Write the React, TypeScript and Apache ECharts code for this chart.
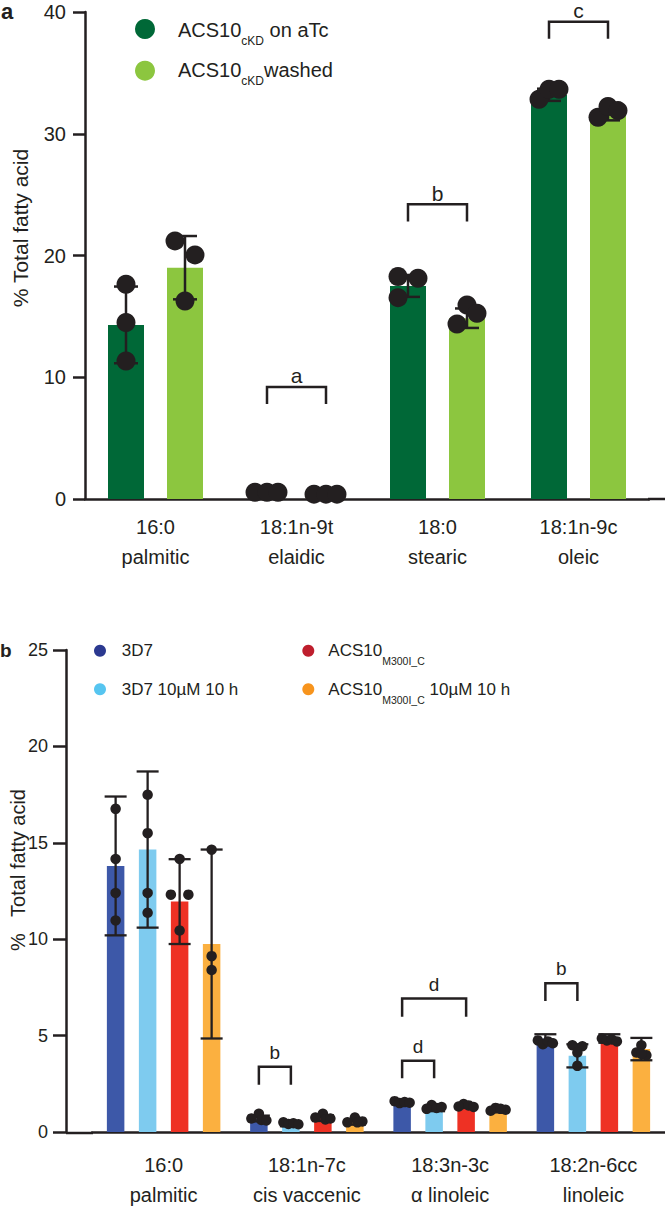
import React, { useEffect, useRef } from "react";
import * as echarts from "echarts";

const FONT = "'Liberation Sans', Arial, Helvetica, sans-serif";
const INK = "#231f20";

// ---------- Panel a data ----------
const fattyA = ["16:0", "18:1n-9t", "18:0", "18:1n-9c"];
const commonA = ["palmitic", "elaidic", "stearic", "oleic"];
const yTicksA = [0, 10, 20, 30, 40];
const meanATc = [14.3, 0.55, 17.5, 33.2];
const meanWashed = [19.0, 0.4, 14.85, 31.55];
const sdATc = [3.15, 0.1, 0.9, 0.5];
const sdWashed = [2.6, 0.1, 0.8, 0.45];
const ptsATc = [[17.64, 14.49, 11.34], [0.55, 0.55, 0.55], [16.54, 18.27, 18.13], [32.84, 33.66, 33.66]];
const ptsWashed = [[21.2, 20.05, 16.27], [0.4, 0.4, 0.4], [14.38, 15.94, 15.26], [31.36, 32.23, 31.9]];
const jitATc = [[0, 0, 0], [-1.2, 0, 1.1], [-1, -1, 1], [-1, 0, 1]];
const jitWashed = [[-1, 1, 0], [-1.2, 0, 1.1], [-1, 0, 1], [-1, 0, 1]];
const bracketCatA = [1, 2, 3];
const bracketFromA = [0, 0, 0];
const bracketToA = [1, 1, 1];
const bracketTopA = [9.2, 24.2, 39.2];
const bracketLegA = [7.8, 22.8, 37.8];
const bracketLetterA = ["a", "b", "c"];

// ---------- Panel b data ----------
const fattyB = ["16:0", "18:1n-7c", "18:3n-3c", "18:2n-6cc"];
const commonB = ["palmitic", "cis vaccenic", "\u03b1 linoleic", "linoleic"];
const yTicksB = [0, 5, 10, 15, 20, 25];
const mean3D7 = [13.8, 0.7, 1.5, 4.85];
const mean3D7Drug = [14.65, 0.38, 1.2, 3.95];
const meanACS = [11.95, 0.72, 1.35, 4.85];
const meanACSDrug = [9.75, 0.5, 1.12, 4.3];
const sd3D7 = [3.6, 0.15, 0.06, 0.22];
const sd3D7Drug = [4.05, 0.08, 0.12, 0.6];
const sdACS = [2.2, 0.15, 0.07, 0.22];
const sdACSDrug = [4.9, 0.12, 0.1, 0.58];
const pts3D7 = [[16.76, 14.16, 12.4, 10.97], [0.95, 0.7, 0.62, 0.6], [1.6, 1.5, 1.55, 1.52], [4.75, 4.55, 4.7, 4.6]];
const pts3D7Drug = [[17.49, 15.5, 12.4, 11.37], [0.5, 0.42, 0.45, 0.4], [1.4, 1.2, 1.25, 1.3], [4.5, 4.45, 4.12, 3.43]];
const ptsACS = [[14.16, 12.31, 12.31, 10.45], [0.95, 0.75, 0.65, 0.7], [1.45, 1.32, 1.38, 1.3], [4.85, 4.75, 4.8, 4.7]];
const ptsACSDrug = [[14.64, 9.12, 8.4], [0.75, 0.5, 0.55, 0.5], [1.25, 1.1, 1.15, 1.2], [4.5, 4.12, 3.98, 4.05]];
const jit3D7 = [[0, 0, 0, 0], [0, -1.5, 0.5, 1.5], [-1.5, -0.5, 0.5, 1.5], [-1.5, -0.5, 0.5, 1.5]];
const jit3D7Drug = [[0, 0, 0, 0], [-1.5, -0.5, 0.5, 1.5], [-0.5, -1.5, 0.5, 1.5], [-1, 1, 0, 0]];
const jitACS = [[0, -1.75, 1.75, 0], [0, -1.5, 0.5, 1.5], [-0.5, -1.5, 0.5, 1.5], [-1.5, -0.5, 0.5, 1.5]];
const jitACSDrug = [[0, 0, 0], [0, -1.5, 1.5, 0.5], [-0.5, -1.5, 1.5, 0.5], [0, -1, 1, 0]];
const bracketCatB = [1, 2, 2, 3];
const bracketFromB = [0, 0, 0, 0];
const bracketToB = [1, 2, 1, 1];
const bracketTopB = [3.39, 6.92, 3.69, 7.71];
const bracketLegB = [2.45, 5.98, 2.79, 6.79];
const bracketLetterB = ["b", "d", "d", "b"];

// ---------- styling ----------
const colorsA = ["#006837", "#8cc63f"];
const colorsB = ["#3d58a8", "#7ecbef", "#ee3124", "#fbb040"];
const legendColorsB = ["#2b3990", "#56c5f0", "#be1e2d", "#f7941d"];

const barOffsets = (n: number, w: number, gap: number) =>
  Array.from({ length: n }, (_, i) => (i - (n - 1) / 2) * (w + gap));

const BW_A = 36, GAP_A = 23;
const BW_B = 17.5, GAP_B = 14.5;
const offA = barOffsets(2, BW_A, GAP_A);
const offB = barOffsets(4, BW_B, GAP_B);

function barSeries(gi: number, name: string, data: number[], color: string, w: number, gap: number) {
  return {
    type: "bar", name, xAxisIndex: gi, yAxisIndex: gi, data, barWidth: w,
    barGap: (gap / w) * 100 + "%", itemStyle: { color }, z: 2, silent: true,
  };
}

function errorSeries(gi: number, means: number[], sds: number[], off: number, capW: number, lw: number) {
  return {
    type: "custom", xAxisIndex: gi, yAxisIndex: gi, z: 3, silent: true,
    encode: { x: 0, y: 1 },
    data: means.map((m, c) => [c, m, sds[c]]),
    renderItem: (_p: any, api: any) => {
      const c = api.value(0), m = api.value(1), sd = api.value(2);
      const hi = api.coord([c, m + sd]);
      const lo = api.coord([c, m - sd]);
      const x = hi[0] + off;
      const st = { stroke: INK, lineWidth: lw };
      return {
        type: "group",
        children: [
          { type: "line", shape: { x1: x, y1: hi[1], x2: x, y2: lo[1] }, style: st },
          { type: "line", shape: { x1: x - capW / 2, y1: hi[1], x2: x + capW / 2, y2: hi[1] }, style: st },
          { type: "line", shape: { x1: x - capW / 2, y1: lo[1], x2: x + capW / 2, y2: lo[1] }, style: st },
        ],
      };
    },
  };
}

function pointSeries(gi: number, pts: number[][], jit: number[][], off: number, unit: number, size: number) {
  const data: any[] = [];
  pts.forEach((arr, c) =>
    arr.forEach((v, i) => data.push({ value: [c, v], symbolOffset: [off + jit[c][i] * unit, 0] }))
  );
  return {
    type: "scatter", xAxisIndex: gi, yAxisIndex: gi, z: 4, silent: true,
    symbol: "circle", symbolSize: size, itemStyle: { color: INK, opacity: 1 }, data,
  };
}

function bracketSeries(gi: number, cats: number[], froms: number[], tos: number[], tops: number[],
  legs: number[], letters: string[], offs: number[], fontSize: number, lw: number, dy: number) {
  return {
    type: "custom", xAxisIndex: gi, yAxisIndex: gi, z: 5, silent: true,
    encode: { x: 0, y: 1 },
    data: cats.map((c, i) => [c, tops[i], legs[i]]),
    renderItem: (params: any, api: any) => {
      const i = params.dataIndex;
      const c = api.value(0);
      const pt = api.coord([c, api.value(1)]);
      const pl = api.coord([c, api.value(2)]);
      const x1 = pt[0] + offs[froms[i]];
      const x2 = pt[0] + offs[tos[i]];
      return {
        type: "group",
        children: [
          {
            type: "polyline",
            shape: { points: [[x1, pl[1]], [x1, pt[1]], [x2, pt[1]], [x2, pl[1]]] },
            style: { stroke: INK, lineWidth: lw, fill: "none", lineJoin: "miter" },
          },
          {
            type: "text", x: (x1 + x2) / 2, y: pt[1] + dy,
            style: { text: letters[i], fontSize, fontFamily: FONT, fill: INK, align: "center", verticalAlign: "middle" },
          },
        ],
      };
    },
  };
}

const axisLineStyle = { color: INK, width: 2.5 };

function legendText(x: number, y: number, text: string, mainSize: number, subSize: number, lh: number, subPad: number) {
  return {
    type: "text", x, y, silent: true,
    style: {
      text, fill: INK, align: "left", verticalAlign: "top", fontFamily: FONT,
      rich: {
        m: { fontSize: mainSize, lineHeight: lh, verticalAlign: "top", fontFamily: FONT, fill: INK },
        s: { fontSize: subSize, lineHeight: subSize, padding: [subPad, 0, 0, 0], verticalAlign: "top", fontFamily: FONT, fill: INK },
      },
    },
  };
}

function buildOption() {
  const option: any = {
    animation: false,
    textStyle: { fontFamily: FONT, color: INK },
    grid: [
      { left: 85, top: 12, width: 564, height: 487 },
      { left: 92, top: 650, width: 584, height: 483 },
    ],
    xAxis: [
      {
        type: "category", gridIndex: 0, data: fattyA,
        axisLine: { lineStyle: axisLineStyle },
        axisTick: { alignWithLabel: true, length: 12, lineStyle: axisLineStyle },
        axisLabel: {
          interval: 0, color: INK, fontSize: 20, fontFamily: FONT, lineHeight: 30, margin: 13,
          formatter: (v: string, i: number) => `${v}\n${commonA[i]}`,
        },
      },
      {
        type: "category", gridIndex: 1, data: fattyB,
        axisLine: { lineStyle: axisLineStyle },
        axisTick: { alignWithLabel: true, length: 12, lineStyle: axisLineStyle },
        axisLabel: {
          interval: 0, color: INK, fontSize: 20, fontFamily: FONT, lineHeight: 30, margin: 18,
          formatter: (v: string, i: number) => `${v}\n${commonB[i]}`,
        },
      },
    ],
    yAxis: [
      {
        type: "value", gridIndex: 0, min: yTicksA[0], max: yTicksA[yTicksA.length - 1],
        interval: yTicksA[1] - yTicksA[0],
        axisLine: { show: true, lineStyle: axisLineStyle },
        axisTick: { show: true, length: 12, lineStyle: axisLineStyle },
        splitLine: { show: false },
        axisLabel: { color: INK, fontSize: 20, fontFamily: FONT, margin: 19 },
      },
      {
        type: "value", gridIndex: 1, min: yTicksB[0], max: yTicksB[yTicksB.length - 1],
        interval: yTicksB[1] - yTicksB[0], offset: 26,
        axisLine: { show: true, lineStyle: axisLineStyle },
        axisTick: { show: true, length: 13, lineStyle: axisLineStyle },
        splitLine: { show: false },
        axisLabel: { color: INK, fontSize: 18, fontFamily: FONT, margin: 18 },
      },
    ],
    series: [
      barSeries(0, "ACS10cKD on aTc", meanATc, colorsA[0], BW_A, GAP_A),
      barSeries(0, "ACS10cKD washed", meanWashed, colorsA[1], BW_A, GAP_A),
      errorSeries(0, meanATc, sdATc, offA[0], 24, 2.5),
      errorSeries(0, meanWashed, sdWashed, offA[1], 24, 2.5),
      pointSeries(0, ptsATc, jitATc, offA[0], 10, 19),
      pointSeries(0, ptsWashed, jitWashed, offA[1], 10, 19),
      bracketSeries(0, bracketCatA, bracketFromA, bracketToA, bracketTopA, bracketLegA, bracketLetterA, offA, 21, 2.5, -11),

      barSeries(1, "3D7", mean3D7, colorsB[0], BW_B, GAP_B),
      barSeries(1, "3D7 10\u00b5M 10 h", mean3D7Drug, colorsB[1], BW_B, GAP_B),
      barSeries(1, "ACS10M300I_C", meanACS, colorsB[2], BW_B, GAP_B),
      barSeries(1, "ACS10M300I_C 10\u00b5M 10 h", meanACSDrug, colorsB[3], BW_B, GAP_B),
      errorSeries(1, mean3D7, sd3D7, offB[0], 22, 2.3),
      errorSeries(1, mean3D7Drug, sd3D7Drug, offB[1], 22, 2.3),
      errorSeries(1, meanACS, sdACS, offB[2], 22, 2.3),
      errorSeries(1, meanACSDrug, sdACSDrug, offB[3], 22, 2.3),
      pointSeries(1, pts3D7, jit3D7, offB[0], 5, 10.5),
      pointSeries(1, pts3D7Drug, jit3D7Drug, offB[1], 5, 10.5),
      pointSeries(1, ptsACS, jitACS, offB[2], 5, 10.5),
      pointSeries(1, ptsACSDrug, jitACSDrug, offB[3], 5, 10.5),
      bracketSeries(1, bracketCatB, bracketFromB, bracketToB, bracketTopB, bracketLegB, bracketLetterB, offB, 19, 2.5, -14.5),
    ],
    graphic: [
      // axis line extensions
      { type: "line", silent: true, shape: { x1: 648, y1: 499, x2: 665, y2: 499 }, style: { stroke: INK, lineWidth: 2.5 } },
      { type: "line", silent: true, shape: { x1: 66, y1: 1133, x2: 93, y2: 1133 }, style: { stroke: INK, lineWidth: 2.5 } },
      // panel letters
      { type: "text", x: 1, y: 11.5, style: { text: "a", fontSize: 22, fontWeight: "bold", fontFamily: FONT, fill: INK, align: "left", verticalAlign: "middle" } },
      { type: "text", x: 0, y: 650, style: { text: "b", fontSize: 19, fontWeight: "bold", fontFamily: FONT, fill: INK, align: "left", verticalAlign: "middle" } },
      // axis titles
      { type: "text", x: 20, y: 228, rotation: Math.PI / 2, style: { text: "% Total fatty acid", fontSize: 21, fontFamily: FONT, fill: INK, align: "center", verticalAlign: "middle" } },
      { type: "text", x: 17.5, y: 870, rotation: Math.PI / 2, style: { text: "%   Total fatty acid", fontSize: 20, fontFamily: FONT, fill: INK, align: "center", verticalAlign: "middle" } },
      // legend a
      { type: "circle", silent: true, shape: { cx: 145, cy: 29, r: 10 }, style: { fill: colorsA[0] } },
      { type: "circle", silent: true, shape: { cx: 145, cy: 70.7, r: 10 }, style: { fill: colorsA[1] } },
      legendText(178, 20.4, "{m|ACS10}{s|cKD}{m| on aTc}", 20, 12, 24, 15),
      legendText(178, 59.5, "{m|ACS10}{s|cKD}{m|washed}", 20, 12, 24, 15),
      // legend b
      { type: "circle", silent: true, shape: { cx: 100, cy: 650.7, r: 6 }, style: { fill: legendColorsB[0] } },
      { type: "circle", silent: true, shape: { cx: 100, cy: 689.3, r: 6 }, style: { fill: legendColorsB[1] } },
      { type: "circle", silent: true, shape: { cx: 308.3, cy: 650.7, r: 6 }, style: { fill: legendColorsB[2] } },
      { type: "circle", silent: true, shape: { cx: 308.3, cy: 689.3, r: 6 }, style: { fill: legendColorsB[3] } },
      legendText(121.7, 641.7, "{m|3D7}", 17, 10.5, 20, 14),
      legendText(121.7, 680.7, "{m|3D7 10\u00b5M 10 h}", 17, 10.5, 20, 14),
      legendText(328.3, 641.7, "{m|ACS10}{s|M300I_C}", 17, 10.5, 20, 14),
      legendText(328.3, 680.7, "{m|ACS10}{s|M300I_C}{m| 10\u00b5M 10 h}", 17, 10.5, 20, 14),
    ],
  };
  return option;
}

export default function App() {
  const ref = useRef<HTMLDivElement>(null);
  useEffect(() => {
    if (!ref.current) return;
    const chart = echarts.init(ref.current, null, { renderer: "svg" });
    chart.setOption(buildOption());
    return () => chart.dispose();
  }, []);
  return (
    <div
      ref={ref}
      style={{ position: "absolute", left: 0, top: 0, width: 665, height: 1210, background: "#fff" }}
    />
  );
}
